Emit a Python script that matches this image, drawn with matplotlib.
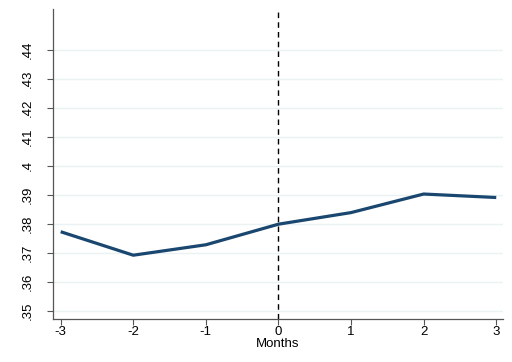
import matplotlib
matplotlib.use("Agg")
import matplotlib.pyplot as plt

plt.rcParams['font.family'] = ['Liberation Sans', 'DejaVu Sans']

# event-time coefficients
months = [-3, -2, -1, 0, 1, 2, 3]
coef = [0.3773, 0.3692, 0.3728, 0.3799, 0.3839, 0.3903, 0.3891]
yticks = [0.35, 0.36, 0.37, 0.38, 0.39, 0.40, 0.41, 0.42, 0.43, 0.44]
ylabels = ['.35', '.36', '.37', '.38', '.39', '.4', '.41', '.42', '.43', '.44']

fig = plt.figure(figsize=(5.12, 3.62), dpi=100)
ax = fig.add_axes([0.1035, 0.1188, 0.8785, 0.8562])

for y in yticks:
    ax.axhline(y, color='#eaf2f3', lw=1.0, zorder=1)
ax.axvline(0, color='black', lw=1.0, ls=(0, (4, 3)), zorder=2)
ax.plot(months, coef, color='#1a476f', lw=2.3, zorder=3, solid_capstyle='butt')

ax.set_xlim(-3.106, 3.09)
ax.set_ylim(0.3472, 0.4541)
ax.set_xticks(months)
ax.set_xticklabels([str(m) for m in months], fontsize=9.5)
ax.set_yticks(yticks)
ax.set_yticklabels(ylabels, fontsize=9.5, rotation=90, va='center')
ax.set_xlabel('Months', fontsize=9.5, labelpad=0)

for s in ['top', 'right']:
    ax.spines[s].set_visible(False)
for s in ['left', 'bottom']:
    ax.spines[s].set_color('#555555')
    ax.spines[s].set_linewidth(0.9)
ax.tick_params(length=4, width=0.8, color='#555555')
ax.tick_params(axis='x', pad=1)
ax.tick_params(axis='y', pad=10)

fig.savefig('out.png', dpi=100)
